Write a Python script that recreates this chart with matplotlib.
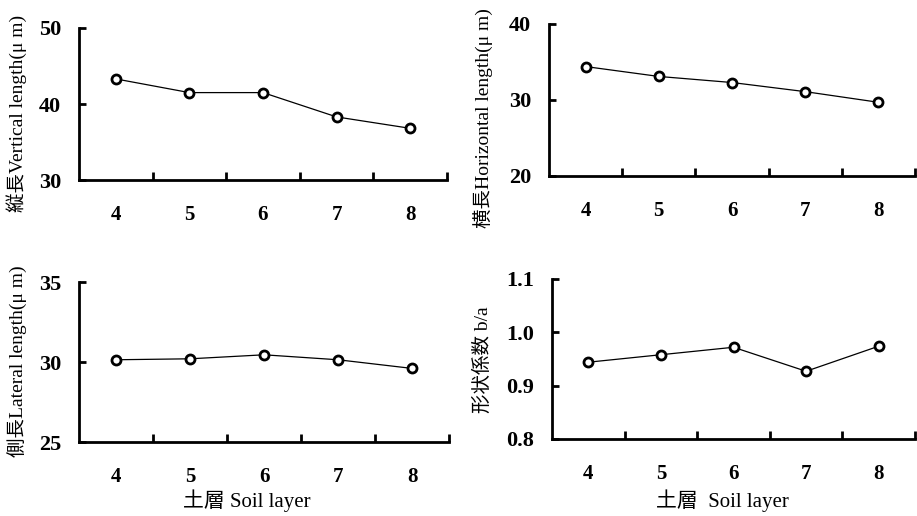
import numpy as np
from matplotlib import pyplot as plt

plt.rcParams['font.family'] = ['Liberation Serif', 'Noto Sans CJK JP']

layers = [4, 5, 6, 7, 8]
vertical = [43.3, 41.5, 41.5, 38.3, 36.8]
horizontal = [34.4, 33.1, 32.3, 31.1, 29.7]
lateral = [30.14, 30.2, 30.45, 30.14, 29.6]
shape = [0.944, 0.958, 0.972, 0.927, 0.974]

ylabels = ["縦長Vertical length(\u03bc m)", "横長Horizontal length(\u03bc m)",
           "側長Lateral length(\u03bc m)", "形状係数 b/a"]
yticks = [[30, 40, 50], [20, 30, 40], [25, 30, 35], [0.8, 0.9, 1.0, 1.1]]
yticklabels = [["30", "40", "50"], ["20", "30", "40"], ["25", "30", "35"],
               ["0.8", "0.9", "1.0", "1.1"]]
xlabels = ["土層 Soil layer", "土層  Soil layer"]

W, H = 917, 516
fig = plt.figure(figsize=(W / 100, H / 100), dpi=100)

# axes boxes in pixels: left, right, top, bottom
boxes = [(79, 447, 28, 180), (549, 915, 24, 176),
         (79, 449, 282, 442), (552, 915, 279, 439)]
# y label centres in pixels
lab_pos = [(17, 113), (483, 118), (17, 361), (483, 360)]
xlab_pos = [(247, 501), (722, 501)]
data = [vertical, horizontal, lateral, shape]

for i in range(4):
    l, r, t, b = boxes[i]
    ax = fig.add_axes([l / W, 1 - b / H, (r - l) / W, (b - t) / H])
    ax.plot(layers, data[i], color='black', lw=0.9, marker='o', ms=6.5,
            mfc='white', mec='black', mew=2)
    ax.set_xlim(3.5, 8.5)
    ax.set_ylim(yticks[i][0], yticks[i][-1])
    ax.spines['top'].set_visible(False)
    ax.spines['right'].set_visible(False)
    ax.spines['left'].set_linewidth(2)
    ax.spines['bottom'].set_linewidth(2)
    ax.set_xticks(layers)
    ax.set_xticklabels([str(v) for v in layers], fontsize=15, fontweight='bold')
    ax.set_xticks([4.5, 5.5, 6.5, 7.5, 8.5], minor=True)
    ax.tick_params(axis='x', which='major', length=0, pad=18)
    ax.tick_params(axis='x', which='minor', direction='in', length=6, width=2)
    ax.set_yticks(yticks[i])
    ax.set_yticklabels(yticklabels[i], fontsize=16, fontweight='bold')
    ax.tick_params(axis='y', direction='in', length=5, width=2, pad=13)
    fig.text(lab_pos[i][0] / W, 1 - lab_pos[i][1] / H, ylabels[i],
             rotation=90, ha='center', va='center', fontsize=14)
    if i >= 2:
        x, y = xlab_pos[i - 2]
        fig.text(x / W, 1 - y / H, xlabels[i - 2], ha='center', va='center',
                 fontsize=15)

fig.savefig('out.png', dpi=100)
